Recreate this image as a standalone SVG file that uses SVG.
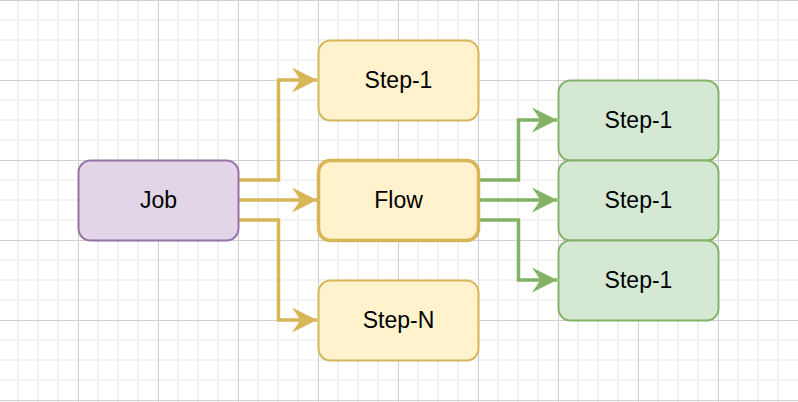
<svg xmlns="http://www.w3.org/2000/svg" width="798" height="402" viewBox="0 0 798 402">
  <defs>
    <pattern id="grid" patternUnits="userSpaceOnUse" x="-2" y="0" width="80" height="80">
      <rect width="80" height="80" fill="#ffffff"/>
      <g fill="#f3f3f3">
        <rect x="19" y="0" width="2" height="80"/>
        <rect x="39" y="0" width="2" height="80"/>
        <rect x="59" y="0" width="2" height="80"/>
        <rect x="0" y="19" width="80" height="2"/>
        <rect x="0" y="39" width="80" height="2"/>
        <rect x="0" y="59" width="80" height="2"/>
      </g>
      <g fill="#d0d0d0">
        <rect x="0" y="0" width="1" height="80"/>
        <rect x="0" y="0" width="80" height="1"/>
      </g>
    </pattern>
    <marker id="arrY" markerUnits="userSpaceOnUse" viewBox="-26 -13 27 26" refX="0" refY="0" markerWidth="27" markerHeight="26" orient="auto">
      <path d="M0,0 L-25,-12.5 L-16.5,0 L-25,12.5 Z" fill="#d6b656"/>
    </marker>
    <marker id="arrG" markerUnits="userSpaceOnUse" viewBox="-26 -13 27 26" refX="0" refY="0" markerWidth="27" markerHeight="26" orient="auto">
      <path d="M0,0 L-25,-12.5 L-16.5,0 L-25,12.5 Z" fill="#82b366"/>
    </marker>
    <style>
      .lbl { font-family: "Liberation Sans", Arial, sans-serif; font-size: 23px; fill: #000000; text-anchor: middle; }
      .yel { fill: #fff2cc; stroke: #d6b656; stroke-width: 2; }
      .flow { fill: #fff2cc; stroke: #d6b656; stroke-width: 3.5; }
      .pur { fill: #e1d5e7; stroke: #9673a6; stroke-width: 2; }
      .grn { fill: #d5e8d4; stroke: #82b366; stroke-width: 2; }
      .cy { fill: none; stroke: #d6b656; stroke-width: 3.5; marker-end: url(#arrY); }
      .cg { fill: none; stroke: #82b366; stroke-width: 3.5; marker-end: url(#arrG); }
    </style>
  </defs>
  <rect width="798" height="402" fill="url(#grid)"/>

  <g id="connectors">
    <path class="cy" d="M239,180 L278.5,180 L278.5,80 L317,80"/>
    <path class="cy" d="M239,200 L317,200"/>
    <path class="cy" d="M239,220 L278.5,220 L278.5,320 L317,320"/>
    <path class="cg" d="M480,180 L518.5,180 L518.5,120 L557,120"/>
    <path class="cg" d="M480,200 L557,200"/>
    <path class="cg" d="M480,220 L518.5,220 L518.5,280 L557,280"/>
  </g>

  <g id="job">
    <rect class="pur" x="78.5" y="160.5" width="160" height="80" rx="12" ry="12"/>
    <text class="lbl" x="158.5" y="208">Job</text>
  </g>
  <g id="step1-top">
    <rect class="yel" x="318.5" y="40.5" width="160" height="80" rx="12" ry="12"/>
    <text class="lbl" x="398.5" y="88">Step-1</text>
  </g>
  <g id="flow">
    <rect class="flow" x="318.5" y="160.5" width="160" height="80" rx="12" ry="12"/>
    <text class="lbl" x="398.5" y="208">Flow</text>
  </g>
  <g id="stepN">
    <rect class="yel" x="318.5" y="280.5" width="160" height="80" rx="12" ry="12"/>
    <text class="lbl" x="398.5" y="328">Step-N</text>
  </g>
  <g id="g-step1-a">
    <rect class="grn" x="558.5" y="80.5" width="160" height="80" rx="12" ry="12"/>
    <text class="lbl" x="638.5" y="128">Step-1</text>
  </g>
  <g id="g-step1-b">
    <rect class="grn" x="558.5" y="160.5" width="160" height="80" rx="12" ry="12"/>
    <text class="lbl" x="638.5" y="208">Step-1</text>
  </g>
  <g id="g-step1-c">
    <rect class="grn" x="558.5" y="240.5" width="160" height="80" rx="12" ry="12"/>
    <text class="lbl" x="638.5" y="288">Step-1</text>
  </g>
</svg>
